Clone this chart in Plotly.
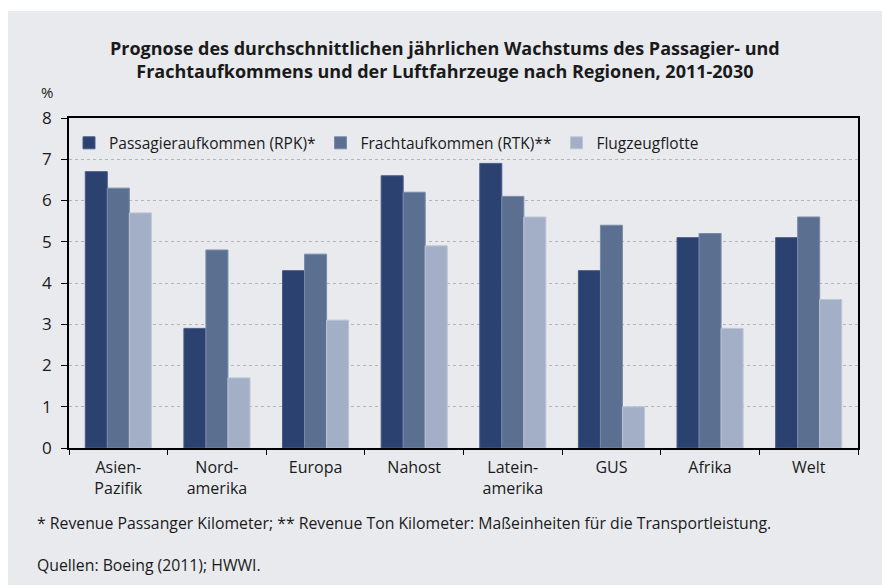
import plotly.graph_objects as go

categories = ["Asien-<br>Pazifik", "Nord-<br>amerika", "Europa", "Nahost",
              "Latein-<br>amerika", "GUS", "Afrika", "Welt"]
series_names = ["Passagieraufkommen (RPK)*", "Frachtaufkommen (RTK)**", "Flugzeugflotte"]
rpk = [6.7, 2.9, 4.3, 6.6, 6.9, 4.3, 5.1, 5.1]
rtk = [6.3, 4.8, 4.7, 6.2, 6.1, 5.4, 5.2, 5.6]
flotte = [5.7, 1.7, 3.1, 4.9, 5.6, 1.0, 2.9, 3.6]
y_ticks = [0, 1, 2, 3, 4, 5, 6, 7, 8]

colors = ["#2b4170", "#5b6f91", "#a3afc6"]
edge = ["#4a5d86", "#7a8ba8", "#bcc5d6"]
BG = "#e8eaee"
FONT = "Open Sans, Noto Sans, sans-serif"

fig = go.Figure()
for name, vals, c, e in zip(series_names, [rpk, rtk, flotte], colors, edge):
    fig.add_trace(go.Bar(x=categories, y=vals, name=name,
                         marker=dict(color=c, line=dict(color=e, width=1))))

W, H = 882, 585
L, R, T, B = 69, 858, 118, 448
pw, ph = R - L, B - T

def px(x):
    return (x - L) / pw

def py(y):
    return (B - y) / ph

fig.update_layout(
    width=W, height=H,
    margin=dict(l=L, r=W - R, t=T, b=H - B, autoexpand=False),
    paper_bgcolor="white",
    plot_bgcolor=BG,
    barmode="group", bargap=0.33, bargroupgap=0,
    font=dict(family=FONT, size=15, color="#1a1a1a"),
    showlegend=True,
    legend=dict(orientation="h", x=0.0, y=0.975, xanchor="left", yanchor="top",
                bgcolor="rgba(0,0,0,0)", font=dict(size=15.5), itemwidth=30,
                traceorder="normal"),
    xaxis=dict(showline=True, linecolor="black", linewidth=1.5, mirror=True,
               ticks="outside", tickson="boundaries", ticklen=5, tickcolor="black",
               tickfont=dict(size=16), ticklabelstandoff=4, showgrid=False),
    yaxis=dict(range=[0, 8], tickvals=y_ticks, showline=True, linecolor="black",
               linewidth=1.5, mirror=True, ticks="outside", ticklen=6,
               tickcolor="black", tickfont=dict(size=17), ticklabelstandoff=6,
               showgrid=True, gridcolor="#b5b5b5", griddash="dot", gridwidth=1,
               zeroline=False),
    shapes=[dict(type="rect", xref="paper", yref="paper",
                 x0=px(8), x1=px(882), y0=py(585), y1=py(11),
                 fillcolor=BG, line=dict(width=0), layer="below")],
    annotations=[
        dict(text="<b>Prognose des durchschnittlichen jährlichen Wachstums des Passagier- und<br>"
                  "Frachtaufkommens und der Luftfahrzeuge nach Regionen, 2011-2030</b>",
             xref="paper", yref="paper", x=px(445), y=py(60), xanchor="center",
             yanchor="middle", showarrow=False, font=dict(size=18), align="center"),
        dict(text="%", xref="paper", yref="paper", x=px(47), y=py(92),
             xanchor="center", yanchor="middle", showarrow=False, font=dict(size=15)),
        dict(text="* Revenue Passanger Kilometer; ** Revenue Ton Kilometer: Maßeinheiten für die Transportleistung.",
             xref="paper", yref="paper", x=px(35), y=py(523), xanchor="left",
             yanchor="middle", showarrow=False, font=dict(size=15.8)),
        dict(text="Quellen: Boeing (2011); HWWI.",
             xref="paper", yref="paper", x=px(35), y=py(565), xanchor="left",
             yanchor="middle", showarrow=False, font=dict(size=15.8)),
    ],
)

fig.write_html("out.html", config={"displayModeBar": False},
               post_script="document.body.style.margin='0px';")
